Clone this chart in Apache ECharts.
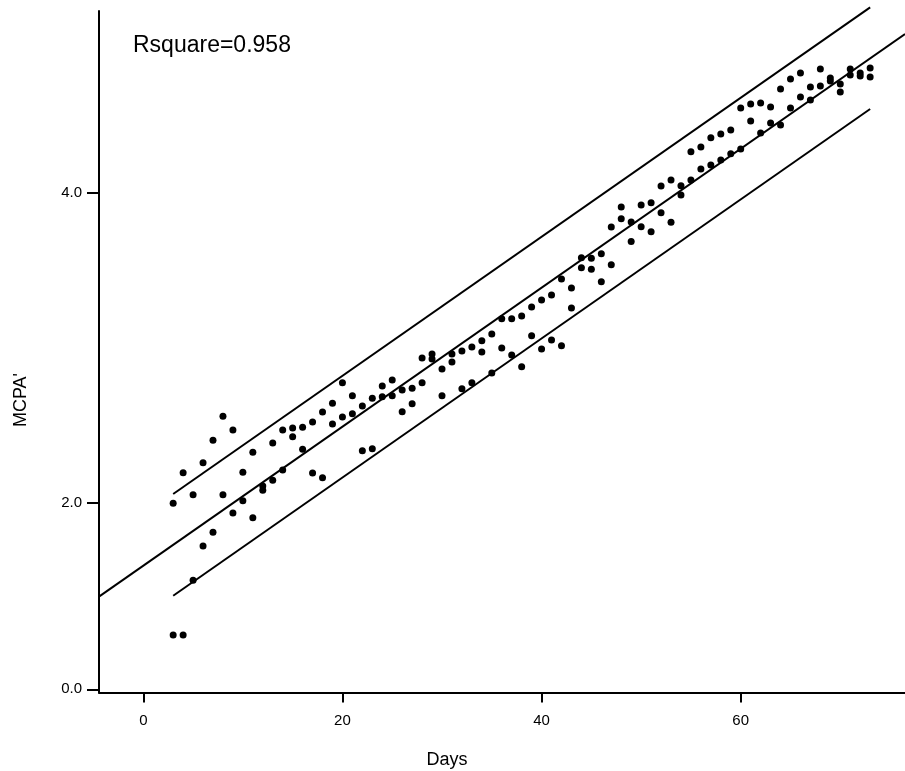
<!DOCTYPE html>
<html>
<head>
<meta charset="utf-8">
<script src="https://cdn.jsdelivr.net/npm/echarts@6/dist/echarts.min.js"></script>
<style>html,body{margin:0;padding:0;background:#fff}#c{width:905px;height:771px}</style>
</head>
<body>
<div id="c"></div>
<script>
// ---- data ----
const days = [3,4,5,6,7,8,9,10,11,12,13,14,15,16,17,18,19,20,21,22,23,24,25,26,27,28,29,30,31,32,33,34,35,36,37,38,
  39,40,41,42,43,44,45,46,47,48,49,50,51,52,53,54,55,56,57,58,59,60,61,62,63,64,65,66,67,68,69,70,71,72,73];
const repA = [1.996,2.194,2.052,2.258,2.403,2.557,2.469,2.196,2.325,2.108,2.385,2.469,2.482,2.486,2.521,2.585,2.641,2.774,
  2.690,2.624,2.674,2.753,2.792,2.727,2.738,2.934,2.959,2.863,2.959,2.979,3.005,3.045,3.088,3.187,3.187,3.205,
  3.263,3.308,3.340,3.443,3.385,3.581,3.577,3.606,3.779,3.908,3.811,3.921,3.935,4.043,4.082,4.045,4.265,4.295,
  4.355,4.379,4.405,4.546,4.572,4.579,4.553,4.669,4.733,4.772,4.682,4.798,4.740,4.701,4.798,4.772,4.804];
const repB = [1.146,1.146,1.499,1.721,1.809,2.052,1.934,2.013,1.903,2.080,2.145,2.211,2.426,2.345,2.192,2.161,2.508,2.553,
  2.574,2.335,2.348,2.684,2.690,2.587,2.639,2.774,2.927,2.690,2.908,2.735,2.774,2.972,2.837,2.998,2.953,2.877,
  3.077,2.992,3.050,3.013,3.256,3.516,3.506,3.426,3.535,3.832,3.686,3.781,3.748,3.871,3.809,3.985,4.082,4.153,
  4.179,4.211,4.252,4.282,4.463,4.385,4.450,4.437,4.546,4.617,4.598,4.688,4.721,4.650,4.759,4.753,4.746];
const fitLine   = [[-4.45, 1.394], [76.5, 5.024]];
const upperLine = [[3, 2.056], [73, 5.196]];
const lowerLine = [[3, 1.400], [73, 4.540]];
const xTicks = [0, 20, 40, 60];
const yTickValues = [0.796, 2, 4];
const yTickLabels = ['0.0', '2.0', '4.0'];
const rsqText = 'Rsquare=0.958';
const xName = 'Days';
const yName = "MCPA'";

// ---- chart ----
const font = '"Liberation Sans", Arial, sans-serif';
const ptsA = days.map((d, i) => [d, repA[i]]);
const ptsB = days.map((d, i) => [d, repB[i]]);
const lineStyle = { color: '#000', width: 2 };
const chart = echarts.init(document.getElementById('c'), null, { renderer: 'canvas' });
chart.setOption({
  animation: false,
  backgroundColor: '#fff',
  grid: { left: 99, right: 0, top: 11, bottom: 78.5, containLabel: false },
  xAxis: {
    type: 'value', min: -4.449, max: 76.5,
    splitLine: { show: false },
    axisLine: { show: true, onZero: false, lineStyle: { color: '#000', width: 2 } },
    axisTick: { show: true, length: 10, customValues: xTicks, lineStyle: { color: '#000', width: 2 } },
    axisLabel: { customValues: xTicks, margin: 21, color: '#000', fontSize: 15, fontFamily: font,
      formatter: v => String(Math.round(v)) }
  },
  yAxis: {
    type: 'value', min: 0.7755, max: 5.1723,
    splitLine: { show: false },
    axisLine: { show: true, onZero: false, lineStyle: { color: '#000', width: 2 } },
    axisTick: { show: true, length: 12, customValues: yTickValues, lineStyle: { color: '#000', width: 2 } },
    axisLabel: { customValues: yTickValues, margin: 17, color: '#000', fontSize: 15, fontFamily: font,
      formatter: v => { const i = yTickValues.indexOf(v); return i >= 0 ? yTickLabels[i] : ''; } }
  },
  graphic: [
    { type: 'text', left: 133, top: 34, style: { text: rsqText, fill: '#000', font: '23px ' + font } },
    { type: 'text', x: 447, y: 760, style: { text: xName, fill: '#000', font: '18px ' + font, align: 'center', verticalAlign: 'middle' } },
    { type: 'text', x: 21, y: 400, rotation: Math.PI / 2, style: { text: yName, fill: '#000', font: '18px ' + font, align: 'center', verticalAlign: 'middle' } }
  ],
  series: [
    { type: 'scatter', data: ptsA, symbol: 'circle', symbolSize: 7, itemStyle: { color: '#000', opacity: 1 } },
    { type: 'scatter', data: ptsB, symbol: 'circle', symbolSize: 7, itemStyle: { color: '#000', opacity: 1 } },
    { type: 'line', data: fitLine, showSymbol: false, symbol: 'none', clip: false, lineStyle: lineStyle },
    { type: 'line', data: upperLine, showSymbol: false, symbol: 'none', clip: false, lineStyle: lineStyle },
    { type: 'line', data: lowerLine, showSymbol: false, symbol: 'none', clip: false, lineStyle: lineStyle }
  ]
});
</script>
</body>
</html>
